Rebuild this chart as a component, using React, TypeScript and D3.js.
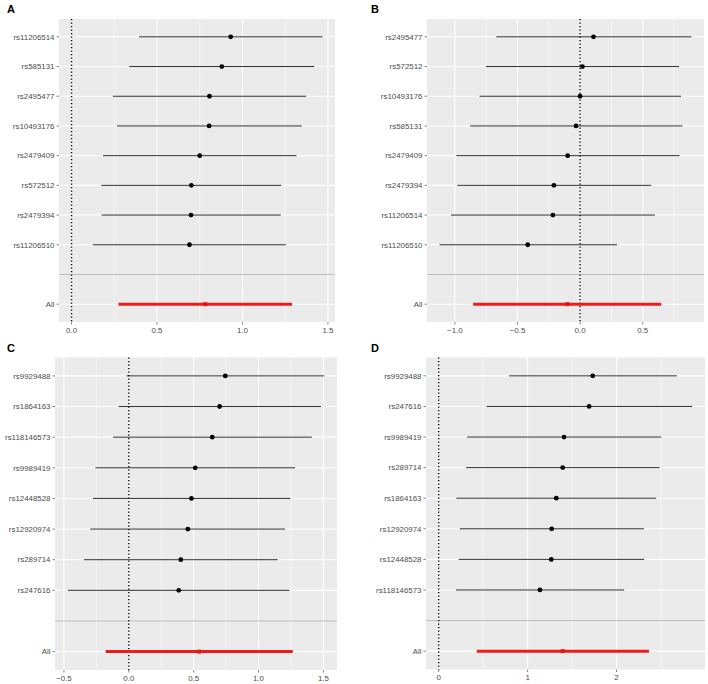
import * as d3 from 'd3';

// panel A
const snpsA = ['rs11206514', 'rs585131', 'rs2495477', 'rs10493176', 'rs2479409', 'rs572512', 'rs2479394', 'rs11206510'];
const bA = [0.931, 0.879, 0.807, 0.805, 0.75, 0.701, 0.699, 0.69];
const loA = [0.395, 0.338, 0.242, 0.266, 0.184, 0.174, 0.176, 0.125];
const hiA = [1.468, 1.42, 1.373, 1.347, 1.316, 1.228, 1.224, 1.254];
const allA = [0.783, 0.275, 1.29];
const ticksA = [0, 0.5, 1, 1.5];
const tickLabelsA = ['0.0', '0.5', '1.0', '1.5'];

// panel B
const snpsB = ['rs2495477', 'rs572512', 'rs10493176', 'rs585131', 'rs2479409', 'rs2479394', 'rs11206514', 'rs11206510'];
const bB = [0.107, 0.019, 0.0, -0.032, -0.099, -0.209, -0.217, -0.418];
const loB = [-0.669, -0.752, -0.803, -0.878, -0.988, -0.98, -1.031, -1.122];
const hiB = [0.889, 0.79, 0.806, 0.817, 0.795, 0.568, 0.597, 0.295];
const allB = [-0.102, -0.854, 0.648];
const ticksB = [-1, -0.5, 0, 0.5];
const tickLabelsB = ['\u22121.0', '\u22120.5', '0.0', '0.5'];

// panel C
const snpsC = ['rs9929488', 'rs1864163', 'rs118146573', 'rs9989419', 'rs12448528', 'rs12920974', 'rs289714', 'rs247616'];
const bC = [0.744, 0.7, 0.643, 0.512, 0.483, 0.455, 0.401, 0.385];
const loC = [-0.018, -0.078, -0.121, -0.258, -0.276, -0.297, -0.346, -0.47];
const hiC = [1.506, 1.481, 1.411, 1.282, 1.245, 1.204, 1.147, 1.238];
const allC = [0.543, -0.178, 1.264];
const ticksC = [-0.5, 0, 0.5, 1, 1.5];
const tickLabelsC = ['\u22120.5', '0.0', '0.5', '1.0', '1.5'];

// panel D
const snpsD = ['rs9929488', 'rs247616', 'rs9989419', 'rs289714', 'rs1864163', 'rs12920974', 'rs12448528', 'rs118146573'];
const bD = [1.733, 1.692, 1.41, 1.395, 1.323, 1.271, 1.267, 1.139];
const loD = [0.793, 0.538, 0.32, 0.308, 0.199, 0.237, 0.226, 0.195];
const hiD = [2.68, 2.853, 2.504, 2.485, 2.447, 2.308, 2.312, 2.086];
const allD = [1.395, 0.429, 2.365];
const ticksD = [0, 1, 2];
const tickLabelsD = ['0', '1', '2'];

type Box = { left: number; top: number; right: number; bottom: number };

function Panel({ tag, box, snps, b, lo, hi, all, ticks, tickLabels }: {
  tag: string; box: Box; snps: string[]; b: number[]; lo: number[]; hi: number[];
  all: number[]; ticks: number[]; tickLabels: string[];
}) {
  const ext = d3.extent([0, ...lo, ...hi, all[1], all[2]]) as [number, number];
  const pad = (ext[1] - ext[0]) * 0.05;
  const x = d3.scaleLinear().domain([ext[0] - pad, ext[1] + pad]).range([box.left, box.right]);
  const cats = [...snps, '', 'All'];
  const y = d3.scalePoint<string>().domain(cats).range([box.top, box.bottom]).padding(0.6);
  const step = ticks[1] - ticks[0];
  const minor = [ticks[0] - step / 2, ...ticks.map(t => t + step / 2)]
    .filter(v => v > x.domain()[0] && v < x.domain()[1]);
  const font = 'Liberation Sans, Arial, sans-serif';

  return (
    <g>
      <text x={tag === 'A' || tag === 'C' ? 7 : 371} y={box.top - 6}
        fontFamily={font} fontWeight="bold" fontSize={11} fill="#000">{tag}</text>
      <rect x={box.left} y={box.top} width={box.right - box.left} height={box.bottom - box.top} fill="#ebebeb" />
      {minor.map(v => (
        <line key={'mi' + v} x1={x(v)} x2={x(v)} y1={box.top} y2={box.bottom} stroke="#fff" strokeWidth={0.5} />
      ))}
      {ticks.map(v => (
        <line key={'ma' + v} x1={x(v)} x2={x(v)} y1={box.top} y2={box.bottom} stroke="#fff" strokeWidth={1.1} />
      ))}
      {cats.filter(c => c !== '').map(c => (
        <line key={'h' + c} x1={box.left} x2={box.right} y1={y(c)} y2={y(c)} stroke="#fff" strokeWidth={1.1} />
      ))}
      <line x1={box.left} x2={box.right} y1={y('')} y2={y('')} stroke="#bebebe" strokeWidth={1} />
      <line x1={x(0)} x2={x(0)} y1={box.top} y2={box.bottom} stroke="#000" strokeWidth={1.4}
        strokeDasharray="1.2,2.3" />
      {snps.map((s, i) => (
        <g key={s}>
          <line x1={x(lo[i])} x2={x(hi[i])} y1={y(s)} y2={y(s)} stroke="#1a1a1a" strokeWidth={0.9} />
          <circle cx={x(b[i])} cy={y(s)} r={2.4} fill="#000" />
        </g>
      ))}
      <line x1={x(all[1])} x2={x(all[2])} y1={y('All')} y2={y('All')} stroke="#ee1c1c" strokeWidth={3} />
      <rect x={x(all[0]) - 2} y={y('All')! - 2} width={4} height={4} fill="#e81515" />
      {cats.filter(c => c !== '').map(c => (
        <g key={'yl' + c}>
          <line x1={box.left - 2.5} x2={box.left} y1={y(c)} y2={y(c)} stroke="#333" strokeWidth={0.6} />
          <text x={box.left - 4.5} y={y(c)} dy="0.35em" textAnchor="end" fontFamily={font}
            fontSize={7.9} fill="#4d4d4d">{c}</text>
        </g>
      ))}
      {ticks.map((v, i) => (
        <g key={'xl' + v}>
          <line x1={x(v)} x2={x(v)} y1={box.bottom} y2={box.bottom + 2.5} stroke="#333" strokeWidth={0.6} />
          <text x={x(v)} y={box.bottom + 10.5} textAnchor="middle" fontFamily={font}
            fontSize={7.9} fill="#4d4d4d">{tickLabels[i]}</text>
        </g>
      ))}
    </g>
  );
}

export default function App() {
  return (
    <svg width={708} height={684} style={{ position: 'absolute', left: 0, top: 0, background: '#fff' }}>
      <Panel tag="A" box={{ left: 59, top: 19, right: 335, bottom: 322 }}
        snps={snpsA} b={bA} lo={loA} hi={hiA} all={allA} ticks={ticksA} tickLabels={tickLabelsA} />
      <Panel tag="B" box={{ left: 427, top: 19, right: 704, bottom: 322 }}
        snps={snpsB} b={bB} lo={loB} hi={hiB} all={allB} ticks={ticksB} tickLabels={tickLabelsB} />
      <Panel tag="C" box={{ left: 55, top: 357.5, right: 337, bottom: 670 }}
        snps={snpsC} b={bC} lo={loC} hi={hiC} all={allC} ticks={ticksC} tickLabels={tickLabelsC} />
      <Panel tag="D" box={{ left: 426, top: 357.5, right: 705, bottom: 669.5 }}
        snps={snpsD} b={bD} lo={loD} hi={hiD} all={allD} ticks={ticksD} tickLabels={tickLabelsD} />
    </svg>
  );
}
